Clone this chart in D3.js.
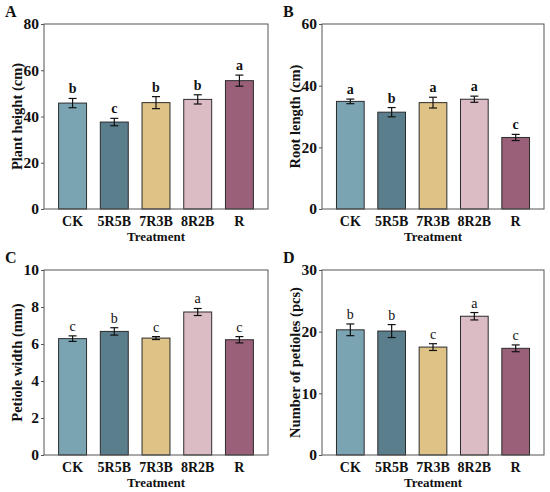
<!DOCTYPE html>
<html><head><meta charset="utf-8">
<script src="https://cdn.jsdelivr.net/npm/d3@7"></script>
<style>body{margin:0;background:#fff}svg{display:block}text{font-family:"Liberation Serif","Times New Roman",serif}</style>
</head><body>
<svg id="c" width="550" height="492"></svg>
<script>
const categories = ["CK","5R5B","7R3B","8R2B","R"];
const colors = ["#7ba4b3","#5b7e8d","#dfc285","#dcbcc4","#9b6079"];
const heightVals = [45.8,37.6,46.0,47.4,55.5];
const heightErr = [2.0,1.6,2.6,2.0,2.4];
const heightSig = ["b","c","b","b","a"];
const rootVals = [34.9,31.4,34.5,35.6,23.2];
const rootErr = [0.75,1.5,1.75,1.0,1.0];
const rootSig = ["a","b","a","a","c"];
const widthVals = [6.29,6.68,6.32,7.73,6.23];
const widthErr = [0.15,0.2,0.08,0.19,0.17];
const widthSig = ["c","b","c","a","c"];
const countVals = [20.3,20.1,17.5,22.5,17.3];
const countErr = [0.95,1.05,0.55,0.6,0.55];
const countSig = ["b","b","c","a","c"];
const yTicksA = [0,20,40,60,80];
const yTicksB = [0,20,40,60];
const yTicksC = [0,2,4,6,8,10];
const yTicksD = [0,10,20,30];

const panels = [
  {lab:"A", title:"Plant height (cm)", vals:heightVals, err:heightErr, sig:heightSig, ticks:yTicksA, x0:44, x1:268, y0:24, y1:209, bold:true},
  {lab:"B", title:"Root length (cm)", vals:rootVals, err:rootErr, sig:rootSig, ticks:yTicksB, x0:322, x1:544, y0:24, y1:209, bold:true},
  {lab:"C", title:"Petiole width (mm)", vals:widthVals, err:widthErr, sig:widthSig, ticks:yTicksC, x0:44, x1:268, y0:270, y1:455, bold:false},
  {lab:"D", title:"Number of petioles (pcs)", vals:countVals, err:countErr, sig:countSig, ticks:yTicksD, x0:322, x1:544, y0:270, y1:455, bold:false}
];
const svg = d3.select("#c");
panels.forEach(p => {
  const g = svg.append("g");
  const x = d3.scaleBand().domain(categories).range([p.x0, p.x1]).paddingInner(0.33).paddingOuter(0.35);
  const y = d3.scaleLinear().domain([p.ticks[0], p.ticks[p.ticks.length-1]]).range([p.y1, p.y0]);
  g.selectAll("rect.bar").data(categories).enter().append("rect")
    .attr("x", d => x(d)).attr("width", x.bandwidth())
    .attr("y", (d,i) => y(p.vals[i])).attr("height", (d,i) => y(0) - y(p.vals[i]))
    .attr("fill", (d,i) => colors[i]).attr("stroke", "#2b2b2b").attr("stroke-width", 1);
  categories.forEach((d,i) => {
    const cx = x(d) + x.bandwidth()/2, hi = y(p.vals[i]+p.err[i]), lo = y(p.vals[i]-p.err[i]);
    const eg = g.append("g").attr("stroke", "#111").attr("stroke-width", 1.2);
    eg.append("line").attr("x1", cx).attr("x2", cx).attr("y1", hi).attr("y2", lo);
    eg.append("line").attr("x1", cx-4).attr("x2", cx+4).attr("y1", hi).attr("y2", hi);
    eg.append("line").attr("x1", cx-4).attr("x2", cx+4).attr("y1", lo).attr("y2", lo);
    g.append("text").attr("x", cx).attr("y", hi - 5).attr("text-anchor", "middle")
      .attr("font-size", 14).attr("font-weight", p.bold ? "bold" : "normal").attr("fill", "#111").text(p.sig[i]);
  });
  g.append("rect").attr("x", p.x0).attr("y", p.y0).attr("width", p.x1-p.x0).attr("height", p.y1-p.y0)
    .attr("fill", "none").attr("stroke", "#555").attr("stroke-width", 1);
  const ya = g.append("g").attr("transform", `translate(${p.x0},0)`)
    .call(d3.axisLeft(y).tickValues(p.ticks).tickSize(3).tickPadding(2).tickFormat(d3.format("d")));
  ya.select(".domain").remove();
  ya.selectAll("line").attr("stroke", "#555");
  ya.selectAll("text").attr("font-size", 15.5).attr("font-weight", "bold").attr("fill", "#111")
    .style("font-family", '"Liberation Serif",serif');
  const xa = g.append("g").attr("transform", `translate(0,${p.y1})`)
    .call(d3.axisBottom(x).tickSize(0).tickPadding(7));
  xa.select(".domain").remove();
  xa.selectAll("text").attr("font-size", 14).attr("font-weight", "bold").attr("fill", "#111")
    .style("font-family", '"Liberation Serif",serif');
  g.append("text").attr("x", (p.x0+p.x1)/2).attr("y", p.y1 + 32).attr("text-anchor", "middle")
    .attr("font-size", 13).attr("font-weight", "bold").attr("fill", "#111").text("Treatment");
  g.append("text").attr("transform", `translate(${p.x0-22},${(p.y0+p.y1)/2}) rotate(-90)`)
    .attr("text-anchor", "middle").attr("font-size", 14.5).attr("font-weight", "bold").attr("fill", "#111").text(p.title);
  g.append("text").attr("x", p.x0 - 39).attr("y", p.y0 - 7).attr("font-size", 16).attr("font-weight", "bold")
    .attr("fill", "#111").text(p.lab);
});
</script>
</body></html>
